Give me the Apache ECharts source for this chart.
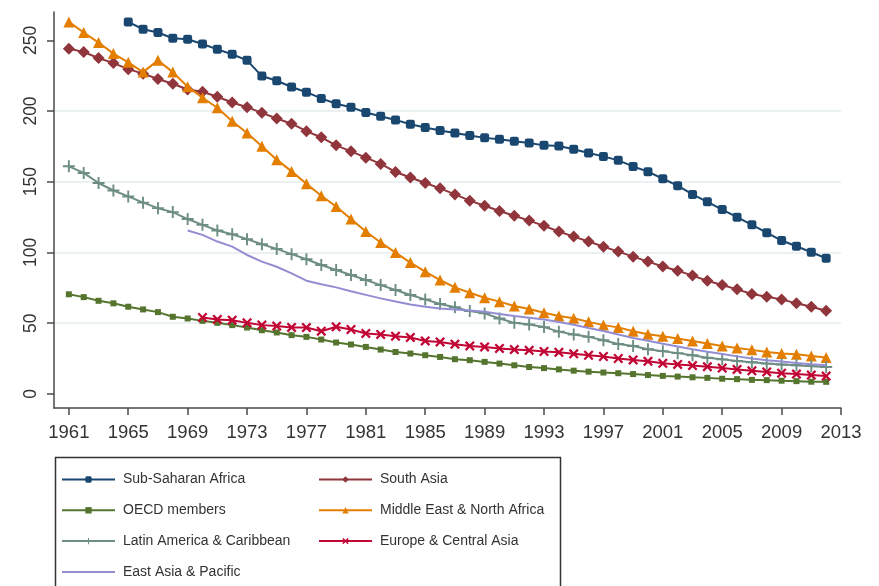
<!DOCTYPE html>
<html>
<head>
<meta charset="utf-8">
<title>Under-five mortality by region, 1961-2012</title>
<script src="https://cdn.jsdelivr.net/npm/echarts@6/dist/echarts.min.js"></script>
<style>
  html, body { margin: 0; padding: 0; background: #ffffff; }
  #chart { width: 879px; height: 586px; }
</style>
</head>
<body>
<div id="chart"></div>
<script>
// Years on the horizontal axis
const years = [
  1961, 1962, 1963, 1964, 1965, 1966, 1967, 1968, 1969, 1970,
  1971, 1972, 1973, 1974, 1975, 1976, 1977, 1978, 1979, 1980,
  1981, 1982, 1983, 1984, 1985, 1986, 1987, 1988, 1989, 1990,
  1991, 1992, 1993, 1994, 1995, 1996, 1997, 1998, 1999, 2000,
  2001, 2002, 2003, 2004, 2005, 2006, 2007, 2008, 2009, 2010,
  2011, 2012
];

// Tick labels
const xTicks = [1961, 1965, 1969, 1973, 1977, 1981, 1985, 1989, 1993, 1997, 2001, 2005, 2009, 2013];
const yTicks = [0, 50, 100, 150, 200, 250];

// One value per year (null where a region has no data)
const subSaharanAfrica = [
  null, null, null, null, 263.0, 257.8, 255.5, 251.4, 250.7, 247.4,
  243.6, 240.1, 235.8, 224.7, 221.4, 217.0, 213.3, 208.9, 205.1, 202.7,
  198.9, 196.3, 193.7, 190.6, 188.3, 186.2, 184.5, 182.6, 181.0, 180.0,
  178.6, 177.4, 175.7, 175.3, 172.9, 170.3, 167.9, 165.1, 160.8, 157.1,
  152.1, 147.2, 141.0, 135.8, 130.3, 124.9, 119.5, 114.0, 108.4, 104.4,
  100.1, 95.9
];
const southAsia = [
  244.1, 241.7, 237.4, 233.9, 229.6, 226.4, 222.6, 219.3, 215.2, 213.6,
  210.1, 206.0, 202.7, 198.7, 194.7, 191.0, 185.7, 181.4, 175.7, 171.5,
  167.0, 162.6, 156.9, 153.0, 149.1, 145.3, 141.0, 136.6, 133.0, 129.3,
  125.9, 122.5, 118.8, 114.8, 111.2, 107.7, 104.1, 100.6, 97.0, 93.5,
  90.0, 87.1, 83.6, 80.0, 77.0, 73.9, 70.6, 68.7, 66.8, 64.0,
  61.6, 58.7
];
const oecdMembers = [
  70.4, 68.4, 65.8, 64.0, 61.6, 59.7, 57.8, 54.5, 53.3, 51.6,
  50.2, 48.6, 46.9, 45.0, 43.4, 41.5, 40.3, 38.4, 36.3, 34.9,
  33.2, 31.3, 29.6, 28.5, 27.3, 26.1, 24.5, 23.8, 22.6, 21.4,
  20.2, 19.0, 18.2, 17.3, 16.4, 15.7, 15.1, 14.6, 14.0, 13.3,
  12.7, 12.2, 11.7, 11.3, 10.7, 10.4, 9.9, 9.7, 9.3, 9.0,
  8.6, 8.5
];
const middleEastNorthAfrica = [
  263.0, 255.5, 248.4, 240.6, 234.4, 227.5, 235.8, 227.5, 217.2, 209.4,
  202.3, 192.8, 184.5, 175.0, 165.6, 157.3, 148.6, 140.1, 132.5, 123.6,
  114.8, 107.0, 99.9, 92.8, 86.4, 80.5, 75.3, 71.5, 68.0, 65.2,
  62.1, 60.0, 57.4, 55.0, 53.5, 50.9, 48.6, 47.0, 44.3, 42.2,
  40.8, 39.1, 37.4, 35.6, 33.9, 32.5, 31.1, 29.6, 28.5, 28.0,
  26.8, 25.7
];
const latinAmericaCaribbean = [
  160.9, 156.2, 149.1, 143.8, 139.6, 135.2, 131.3, 128.5, 123.6, 119.5,
  115.5, 112.9, 109.4, 105.8, 102.5, 98.8, 95.2, 91.1, 87.6, 84.0,
  80.5, 76.9, 73.4, 69.9, 66.8, 63.5, 61.2, 58.5, 56.9, 53.3,
  50.2, 49.0, 47.2, 44.0, 42.0, 40.3, 37.9, 35.3, 33.8, 31.5,
  30.2, 28.8, 27.3, 25.5, 24.4, 23.3, 22.3, 21.4, 20.8, 20.2,
  19.6, 19.0
];
const europeCentralAsia = [
  null, null, null, null, null, null, null, null, null, 54.0,
  52.6, 52.1, 50.2, 48.6, 47.9, 47.0, 46.9, 44.3, 47.4, 45.5,
  42.7, 42.0, 40.8, 39.9, 37.4, 36.7, 35.1, 33.9, 33.2, 32.1,
  31.3, 30.8, 30.0, 29.4, 28.3, 27.3, 26.4, 25.0, 24.0, 23.0,
  21.6, 20.8, 20.0, 19.2, 18.2, 17.3, 16.3, 15.5, 14.6, 14.0,
  13.3, 12.6
];
const eastAsiaPacific = [
  null, null, null, null, null, null, null, null, 115.5, 112.4,
  107.7, 104.1, 98.2, 93.5, 89.9, 85.2, 80.0, 77.5, 75.3, 72.5,
  70.0, 67.5, 65.3, 63.2, 61.6, 60.4, 59.7, 59.0, 58.0, 56.5,
  55.0, 53.8, 52.5, 50.8, 48.8, 46.5, 44.5, 42.0, 39.5, 37.5,
  35.5, 33.5, 31.5, 29.8, 28.2, 26.5, 25.0, 23.8, 22.8, 21.8,
  21.0, 20.3
];

// Marker outlines for the plus and cross symbols
const plusPath = 'path://M4.2,0H5.8V4.2H10V5.8H5.8V10H4.2V5.8H0V4.2H4.2Z';
const crossPath = 'path://M0,1.6L1.6,0L5,3.4L8.4,0L10,1.6L6.6,5L10,8.4L8.4,10L5,6.6L1.6,10L0,8.4L3.4,5Z';

const regions = [
  { name: 'Sub-Saharan Africa', values: subSaharanAfrica, color: '#1a476f', symbol: 'roundRect', size: 9 },
  { name: 'South Asia', values: southAsia, color: '#90353b', symbol: 'diamond', size: 12 },
  { name: 'OECD members', values: oecdMembers, color: '#55752f', symbol: 'rect', size: 6 },
  { name: 'Middle East & North Africa', values: middleEastNorthAfrica, color: '#e37e00', symbol: 'triangle', size: 11 },
  { name: 'Latin America & Caribbean', values: latinAmericaCaribbean, color: '#6e8e84', symbol: plusPath, size: 12 },
  { name: 'Europe & Central Asia', values: europeCentralAsia, color: '#c10534', symbol: crossPath, size: 10 },
  { name: 'East Asia & Pacific', values: eastAsiaPacific, color: '#938dd2', symbol: 'none', size: 0 }
];

const axisColor = '#4a4a4a';
const textColor = '#333333';
const plainFont = "'Liberation Sans', Arial, sans-serif";

const series = regions.map(function (r, i) {
  return {
    name: r.name,
    type: 'line',
    data: years.map(function (y, k) { return [y, r.values[k]]; }),
    connectNulls: false,
    symbol: r.symbol,
    symbolSize: r.size,
    showSymbol: r.symbol !== 'none',
    lineStyle: { color: r.color, width: 2 },
    itemStyle: { color: r.color },
    z: 2 + i,
    animation: false
  };
});

const legendText = { fontFamily: plainFont, fontSize: 14, color: textColor, lineHeight: 17, padding: [0, 0, 0, 3] };
const legendCommon = {
  orient: 'vertical',
  top: 471,
  itemWidth: 53,
  itemHeight: 8,
  itemGap: 13.8,
  textStyle: legendText,
  selectedMode: false,
  padding: 0
};

// The line-only region gets a legend key without a marker
const hiddenMarker = { opacity: 0, color: 'rgba(0,0,0,0)', borderWidth: 0 };

const chart = echarts.init(document.getElementById('chart'), null, { renderer: 'canvas' });
chart.setOption({
  backgroundColor: '#ffffff',
  animation: false,
  grid: { left: 54, right: 38, top: 12, bottom: 178, containLabel: false },
  xAxis: {
    type: 'value',
    min: 1960,
    max: 2013,
    axisLine: { show: true, onZero: false, lineStyle: { color: axisColor, width: 1.5 } },
    axisTick: { show: true, length: 7, lineStyle: { color: axisColor, width: 1.5 }, customValues: xTicks },
    axisLabel: {
      customValues: xTicks,
      margin: 15,
      fontFamily: plainFont,
      fontSize: 18.5,
      color: textColor,
      formatter: function (v) { return String(v); }
    },
    splitLine: { show: false }
  },
  yAxis: {
    type: 'value',
    min: -10,
    max: 270,
    axisLine: { show: true, onZero: false, lineStyle: { color: axisColor, width: 1.5 } },
    axisTick: { show: true, length: 7, lineStyle: { color: axisColor, width: 1.5 }, customValues: yTicks },
    axisLabel: {
      customValues: yTicks,
      rotate: 90,
      margin: 14,
      fontFamily: plainFont,
      fontSize: 17.5,
      color: textColor
    },
    splitLine: { show: true, showMinLine: false, showMaxLine: false, lineStyle: { color: '#e4ecef', width: 1.5 } }
  },
  legend: [
    Object.assign({
      left: 61,
      data: [
        'Sub-Saharan Africa',
        'OECD members',
        'Latin America & Caribbean',
        { name: 'East Asia & Pacific', itemStyle: hiddenMarker }
      ]
    }, legendCommon),
    Object.assign({
      left: 318,
      data: ['South Asia', 'Middle East & North Africa', 'Europe & Central Asia']
    }, legendCommon)
  ],
  graphic: [{
    type: 'rect',
    left: 53,
    top: 455,
    shape: { width: 505, height: 150 },
    style: { fill: 'none', stroke: '#333333', lineWidth: 1.5 },
    z: -1
  }],
  series: series
});
</script>
</body>
</html>
